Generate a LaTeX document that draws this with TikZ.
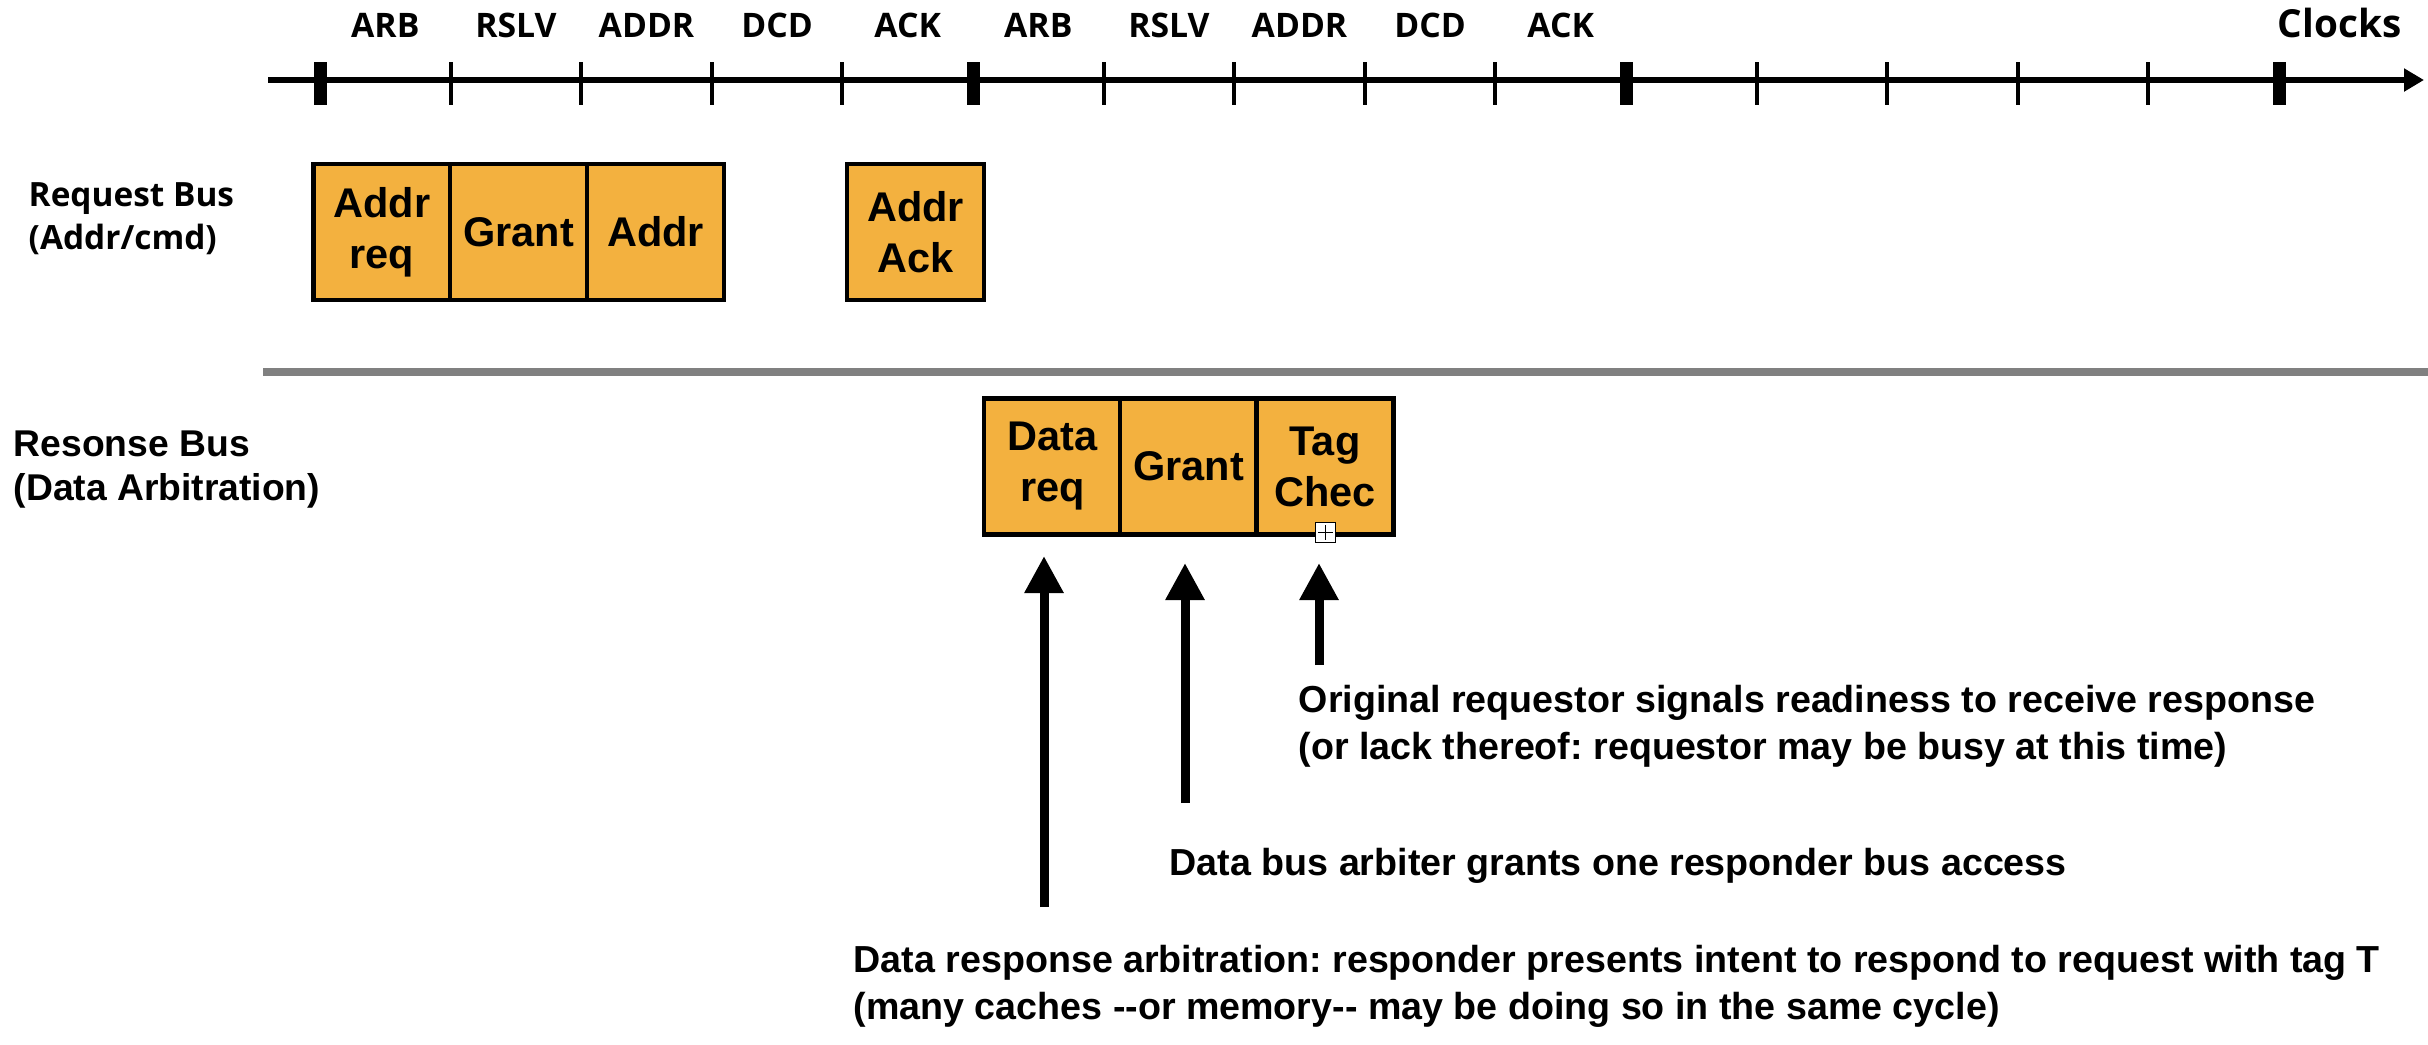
\documentclass[tikz,border=0pt]{standalone}
\usepackage{fontspec}
\usetikzlibrary{arrows.meta}
\newfontfamily\osfont{Open Sans}
\newfontfamily\lsfont{Liberation Sans}
\definecolor{boxfill}{RGB}{243,177,63}
\definecolor{sepgray}{RGB}{128,128,128}
\frenchspacing
\begin{document}
\begin{tikzpicture}[x=0.01cm,y=-0.01cm,
  ticklbl/.style={font=\osfont\bfseries\fontsize{9.6pt}{11pt}\selectfont, inner sep=0, anchor=base},
  buslbl/.style={font=\osfont\bfseries\fontsize{9.5pt}{11pt}\selectfont, inner sep=0, anchor=base west},
  buslblb/.style={font=\lsfont\bfseries\fontsize{10.6pt}{12pt}\selectfont, inner sep=0, anchor=base west},
  slot/.style={draw=black, line width=0.045cm, fill=boxfill, minimum width=1.365cm, minimum height=1.36cm, inner sep=0, outer sep=0, align=center, font=\lsfont\bfseries\fontsize{11.8pt}{14.5pt}\selectfont},
  note/.style={font=\lsfont\bfseries\fontsize{10.7pt}{12.5pt}\selectfont, inner sep=0, anchor=base west},
  uparrow/.style={line width=0.09cm, -{Triangle[length=0.37cm,width=0.37cm]}},
  majortick/.style={line width=0.13cm},
  minortick/.style={line width=0.04cm}
]
\useasboundingbox (0,0) rectangle (2428,1044);

% clock axis
\coordinate (axstart) at (268,80);
\coordinate (axend) at (2424,80);
\foreach \i in {0,5,10,15} \draw[majortick] ({320+130.6*\i},62) -- ++(0,43);
\foreach \i in {1,2,3,4,6,7,8,9,11,12,13,14} \draw[minortick] ({320+130.6*\i},62) -- ++(0,43);
\draw[line width=0.065cm, -{Triangle[length=0.2cm,width=0.22cm]}] (axstart) -- (axend);
\foreach \lbl [count=\k from 0] in {ARB,RSLV,ADDR,DCD,ACK,ARB,RSLV,ADDR,DCD,ACK}
  \node[ticklbl] (tl\k) at ({320+130.6*(\k+0.5)},37) {\lbl};
\node[font=\osfont\bfseries\fontsize{11pt}{13pt}\selectfont, inner sep=0, anchor=base east] (clocks) at (2402,37) {Clocks};

% request bus
\node[buslbl] (rb1) at (28,206) {Request Bus};
\node[buslbl] (rb2) at (28,249) {(Addr/cmd)};
\node[slot] (areq) at (382,232) {Addr\\req};
\node[slot] (rgrant) at (518.5,232) {Grant};
\node[slot] (raddr) at (655.5,232) {Addr};
\node[slot] (aack) at (915.5,232) {Addr\\Ack};

% separator
\coordinate (sepL) at (263,372);
\coordinate (sepR) at (2428,372);
\draw[sepgray, line width=0.08cm] (sepL) -- (sepR);

% response bus
\node[buslblb] (sb1) at (13,456) {Resonse Bus};
\node[buslblb] (sb2) at (13,500) {(Data Arbitration)};
\node[slot] (dreq) at (1052.5,466.5) {Data\\req};
\node[slot] (dgrant) at (1188.5,466.5) {Grant};
\node[slot] (tagc) at (1325,466.5) {Tag\\Chec};
\node[draw, fill=white, line width=0.015cm, minimum size=0.2cm, inner sep=0] (plus) at (1325.5,532.5) {};
\draw[line width=0.013cm] ([yshift=-0.035cm]plus.north) -- ([yshift=0.035cm]plus.south);
\draw[line width=0.013cm] ([xshift=0.035cm]plus.west) -- ([xshift=-0.035cm]plus.east);

% arrows
\coordinate (t1) at (1044,556); \coordinate (b1) at (1044,907);
\coordinate (t2) at (1185,563); \coordinate (b2) at (1185,803);
\coordinate (t3) at (1319,563); \coordinate (b3) at (1319,665);
\draw[uparrow] (b1) -- (t1);
\draw[uparrow] (b2) -- (t2);
\draw[uparrow] (b3) -- (t3);

% notes
\node[note] (n3a) at (1298,712) {Original requestor signals readiness to receive response};
\node[note] (n3b) at (1298,759) {(or lack thereof: requestor may be busy at this time)};
\node[note] (n2) at (1169,875) {Data bus arbiter grants one responder bus access};
\node[note] (n1a) at (853,972) {Data response arbitration: responder presents intent to respond to request with tag T};
\node[note] (n1b) at (853,1019) {(many caches \mbox{-}\mbox{-}or memory\mbox{-}\mbox{-} may be doing so in the same cycle)};
\end{tikzpicture}
\end{document}
